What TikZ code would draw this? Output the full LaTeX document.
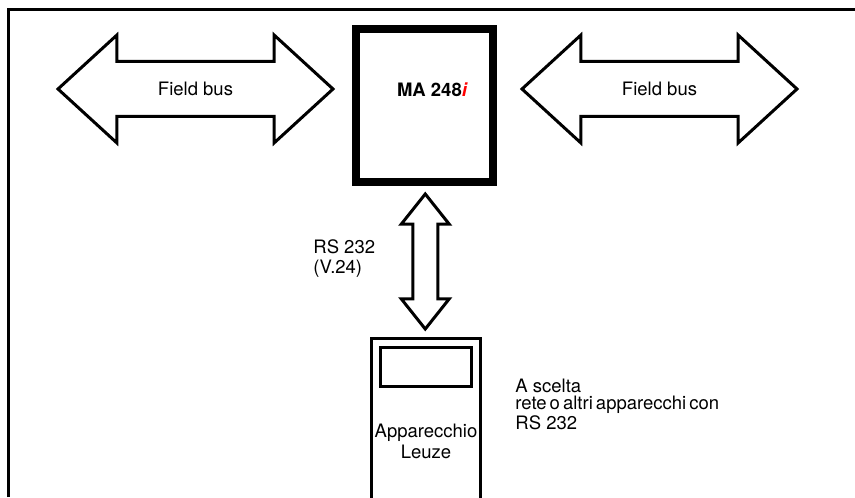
\documentclass[tikz,border=0pt]{standalone}
\usepackage{fontspec}
\setmainfont{TeX Gyre Heros}
\usepackage{xcolor}
\usepackage{tikz}
\usetikzlibrary{shapes.arrows, calc, positioning}

\begin{document}
\begin{tikzpicture}[x=0.5pt,y=-0.5pt,font=\fontsize{9.25}{10}\selectfont,
  bus/.style={double arrow,draw,line width=1.5pt,minimum height=137.5pt,minimum width=52.5pt,
    double arrow head extend=13.25pt,double arrow tip angle=85,inner ysep=9.75pt,
    text height=6.5pt,text depth=0pt},
  link/.style={double arrow,draw,line width=1.5pt,minimum height=67.5pt,minimum width=22.5pt,
    double arrow head extend=5.75pt,double arrow tip angle=77,inner ysep=5.5pt,inner xsep=0pt},
  box/.style={draw,line width=1.5pt,inner sep=0pt},
  note/.style={align=left,inner sep=0pt,anchor=north west}]
\useasboundingbox (0,0) rectangle (855,497);
% frame
\draw[line width=1.5pt] (8,497) -- (8,10) -- (855,10);
% central unit
\node[box,line width=4pt,minimum width=68.5pt,minimum height=76.5pt] (ma) at (424.5,105.5) {};
\node[font=\fontsize{9.25}{10}\selectfont\bfseries] (malabel) at (432,90) {MA 248\textcolor{red}{\itshape i}};
% field bus on both sides
\node[bus] (busleft) at (195.5,89) {Field bus};
\node[bus] (busright) at (659.5,89) {Field bus};
% device below
\node[box,minimum width=54.5pt,minimum height=102.5pt,align=center,font=\fontsize{9.25}{10.5}\selectfont] (leuze) at (426,441) {Apparecchio\\Leuze};
\node[box,minimum width=45.5pt,minimum height=19.5pt] (display) at (426,367) {};
\node[link,rotate=90] (rslink) at ($(ma.south)!0.5!(leuze.north)$) {};
\node[note,font=\fontsize{9.25}{10}\selectfont] (rslabel) at (313,239) {RS 232\\(V.24)};
\node[note,font=\fontsize{9.25}{8.25}\selectfont] (choice) at (515,379) {A scelta\\rete\,o\,altri\,apparecchi\,con\\RS 232};
\end{tikzpicture}
\end{document}
